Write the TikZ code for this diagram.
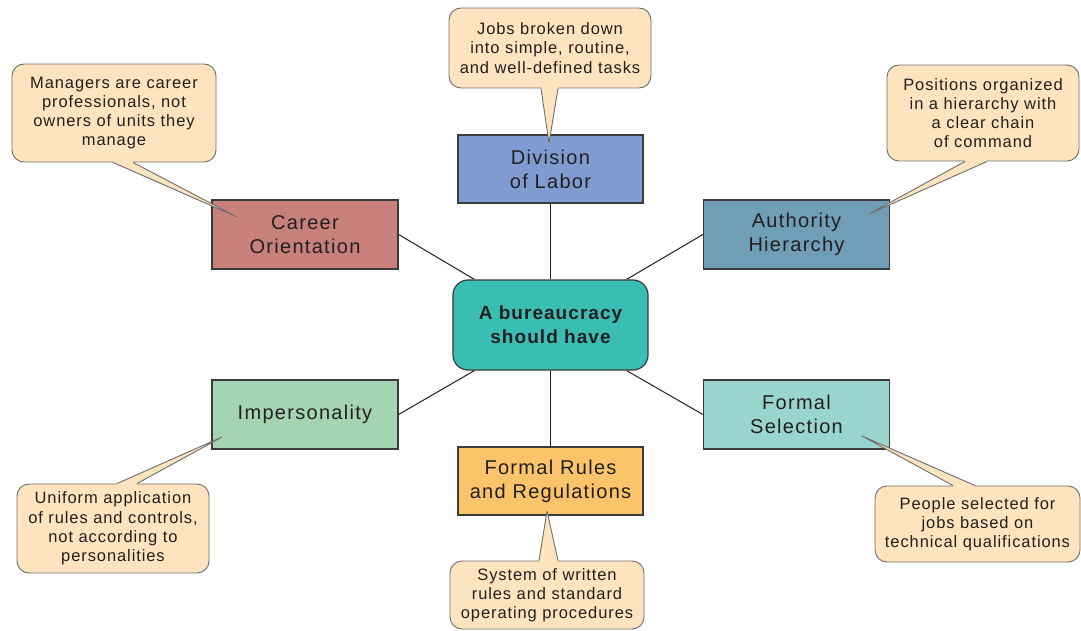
\documentclass[tikz,border=0pt]{standalone}
\usepackage{fontspec}
\setmainfont{Liberation Sans}
\newfontfamily\boxfont[LetterSpace=6.5]{Liberation Sans}
\newfontfamily\hubfont[LetterSpace=5.5]{Liberation Sans}
\newfontfamily\calfont[LetterSpace=5.5]{Liberation Sans}
\usetikzlibrary{calc}
\definecolor{txt}{HTML}{231F20}
\definecolor{boxline}{HTML}{3A3A3A}
\definecolor{callline}{HTML}{6D6D6D}
\definecolor{callfill}{HTML}{FDE4BE}
\definecolor{cdiv}{HTML}{7F9BD0}
\definecolor{ccar}{HTML}{C8807A}
\definecolor{caut}{HTML}{709EB6}
\definecolor{ccen}{HTML}{3ABEB4}
\definecolor{cimp}{HTML}{A5D4B2}
\definecolor{csel}{HTML}{98D5CF}
\definecolor{crul}{HTML}{FBC46A}
\newcommand\calltail[4]{%
  \fill[callfill] ($(#1)+(#4)$) -- (#1) -- (#3) -- (#2) -- ($(#2)+(#4)$) -- cycle;
  \draw[tailedge] (#1) -- (#3) -- (#2);}
\begin{document}
\begin{tikzpicture}[x=1pt,y=-1pt,
  box/.style={draw=boxline, line width=1.2pt, minimum width=186pt, minimum height=69pt, inner sep=0pt, align=center, font=\boxfont\fontsize{20}{24}\selectfont, text=txt},
  hub/.style={draw=boxline, line width=1.2pt, fill=ccen, rounded corners=15pt, minimum width=195pt, minimum height=90pt, inner sep=0pt, align=center, font=\hubfont\bfseries\fontsize{19}{24}\selectfont, text=txt},
  callout/.style={draw=callline, fill=callfill, line width=0.9pt, rounded corners=12pt, inner sep=0pt, align=center, font=\calfont\fontsize{16.5}{19.2}\selectfont, text=txt},
  link/.style={draw=txt, line width=1pt},
  tailedge/.style={draw=callline, line width=0.9pt, line join=round}]
\useasboundingbox (0,0) rectangle (1081,631);
% hub and boxes
\node[hub] (center) at (550.5,325) {A bureaucracy\\should have};
\node[box, fill=cdiv, minimum width=185pt, minimum height=68pt] (div) at (550.5,169) {Division\\of Labor};
\node[box, fill=ccar] (career) at (305,234.5) {Career\\Orientation};
\node[box, fill=caut] (auth) at (796.5,234.5) {Authority\\Hierarchy};
\node[box, fill=cimp] (imp) at (305,414.5) {Impersonality};
\node[box, fill=csel] (fsel) at (796.5,414.5) {Formal\\Selection};
\node[box, fill=crul, minimum width=185pt, minimum height=68pt] (frules) at (550.5,481) {Formal Rules\\and Regulations};
% links
\draw[link] (div.south) -- (center.north);
\draw[link] (frules.north) -- (center.south);
\draw[link] (career.east) -- ([xshift=22pt]center.north west);
\draw[link] (auth.west) -- ([xshift=-22pt]center.north east);
\draw[link] (imp.east) -- ([xshift=22pt]center.south west);
\draw[link] (fsel.west) -- ([xshift=-22pt]center.south east);
% callouts
\node[callout, minimum width=202pt, minimum height=80pt] (c1) at (550,48) {Jobs broken down\\into simple, routine,\\and well-defined tasks};
\node[callout, minimum width=204pt, minimum height=98pt] (c2) at (114,113) {Managers are career\\professionals, not\\owners of units they\\manage};
\node[callout, minimum width=192pt, minimum height=96pt] (c3) at (983,113) {Positions organized\\in a hierarchy with\\a clear chain\\of command};
\node[callout, minimum width=192pt, minimum height=89pt] (c4) at (113,528.5) {Uniform application\\of rules and controls,\\not according to\\personalities};
\node[callout, minimum width=205pt, minimum height=76pt] (c5) at (977.5,524) {People selected for\\jobs based on\\technical qualifications};
\node[callout, minimum width=194pt, minimum height=68pt] (c6) at (547,595) {System of written\\rules and standard\\operating procedures};
% tails
\coordinate (t1a) at ([xshift=-9pt]c1.south);
\coordinate (t1b) at ([xshift=8pt]c1.south);
\coordinate (t1) at (549,143);
\coordinate (t2a) at ([xshift=-1pt]c2.south);
\coordinate (t2b) at ([xshift=19pt]c2.south);
\coordinate (t2) at (237,217);
\coordinate (t3a) at ([xshift=-18pt]c3.south);
\coordinate (t3b) at ([xshift=4pt]c3.south);
\coordinate (t3) at (869,214);
\coordinate (t4a) at ([xshift=4pt]c4.north);
\coordinate (t4b) at ([xshift=24pt]c4.north);
\coordinate (t4) at (222,437);
\coordinate (t5a) at ([xshift=-24.5pt]c5.north);
\coordinate (t5b) at ([xshift=-2.5pt]c5.north);
\coordinate (t5) at (862,436);
\coordinate (t6a) at ([xshift=-8pt]c6.north);
\coordinate (t6b) at ([xshift=11pt]c6.north);
\coordinate (t6) at (547,511);
\calltail{t1a}{t1b}{t1}{0,-2}
\calltail{t2a}{t2b}{t2}{0,-2}
\calltail{t3a}{t3b}{t3}{0,-2}
\calltail{t4a}{t4b}{t4}{0,2}
\calltail{t5a}{t5b}{t5}{0,2}
\calltail{t6a}{t6b}{t6}{0,2}
\end{tikzpicture}
\end{document}
